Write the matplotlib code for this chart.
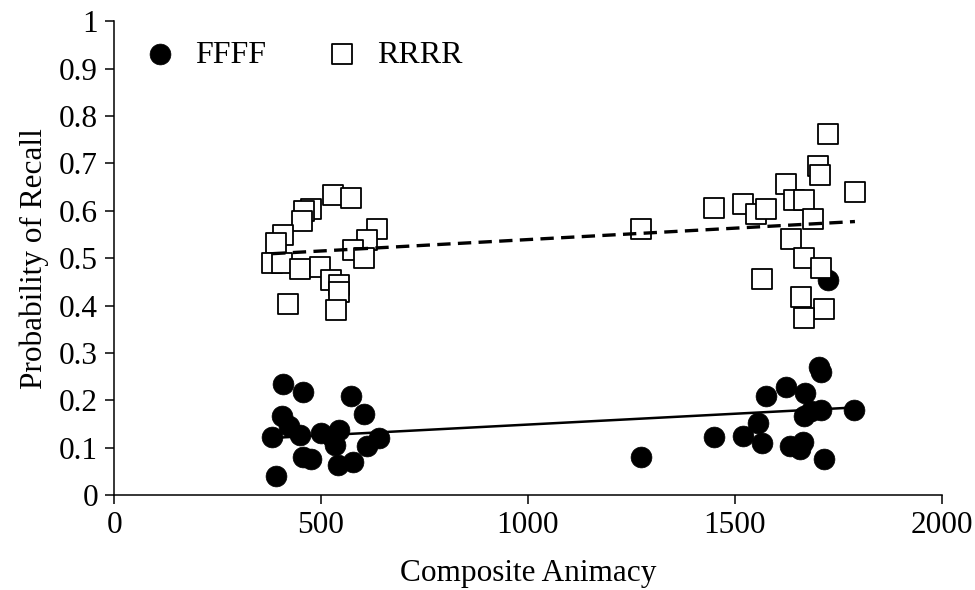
import numpy as np
import matplotlib.pyplot as plt

# FFFF (filled circles)
ffff_x = [407, 457, 573, 604, 405, 423, 382, 449, 499, 544, 526, 534, 641, 612,
          456, 477, 542, 577, 391,
          1273,
          1704, 1708, 1574, 1623, 1669, 1787, 1709, 1685, 1667, 1450, 1519, 1555,
          1566, 1633, 1665, 1657, 1716, 1725]
ffff_y = [0.234, 0.217, 0.209, 0.171, 0.167, 0.146, 0.123, 0.127, 0.131, 0.137,
          0.122, 0.105, 0.121, 0.103, 0.081, 0.076, 0.063, 0.069, 0.041,
          0.080,
          0.270, 0.260, 0.209, 0.227, 0.215, 0.179, 0.179, 0.178, 0.167, 0.123,
          0.124, 0.151, 0.110, 0.103, 0.112, 0.098, 0.077, 0.454]

# RRRR (open squares)
rrrr_x = [528, 573, 476, 460, 455, 636, 612, 407, 391, 577, 604, 382, 405, 449,
          498, 524, 544, 544, 420, 537,
          1273,
          1725, 1701, 1705, 1790, 1623, 1450, 1520, 1552, 1575, 1643, 1667, 1688,
          1635, 1667, 1709, 1566, 1659, 1715, 1667]
rrrr_y = [0.634, 0.626, 0.603, 0.600, 0.579, 0.561, 0.538, 0.549, 0.532, 0.518,
          0.501, 0.490, 0.490, 0.478, 0.482, 0.454, 0.443, 0.429, 0.404, 0.390,
          0.561,
          0.761, 0.694, 0.675, 0.640, 0.656, 0.605, 0.615, 0.594, 0.603, 0.622,
          0.622, 0.582, 0.540, 0.501, 0.480, 0.455, 0.417, 0.392, 0.373]

plt.rcParams['font.family'] = ['Liberation Serif', 'DejaVu Serif']

fig = plt.figure(figsize=(9.75, 5.9), dpi=100)
ax = fig.add_axes([0.117, 0.161, 0.849, 0.803])

ax.scatter(ffff_x, ffff_y, s=225, marker='o', c='black', edgecolors='black',
           linewidths=0.5, label='FFFF', zorder=2)
ax.scatter(rrrr_x, rrrr_y, s=195, marker='s', facecolors='white',
           edgecolors='black', linewidths=1.3, label='RRRR', zorder=3)

# Linear trendlines over the range of each series
fx = np.array(ffff_x)
k, b = np.polyfit(fx, ffff_y, 1)
xs = np.array([fx.min(), fx.max()])
ax.plot(xs, k * xs + b, color='black', lw=1.8, zorder=4)

rx = np.array(rrrr_x)
k, b = np.polyfit(rx, rrrr_y, 1)
xs = np.array([rx.min(), rx.max()])
ax.plot(xs, k * xs + b, color='black', lw=2.4, ls=(0, (4, 2.2)), zorder=4)

ax.set_xlim(0, 2000)
ax.set_ylim(0, 1)
ax.set_xticks([0, 500, 1000, 1500, 2000])
ax.set_yticks(np.arange(0, 1.01, 0.1))
ax.set_yticklabels(['0', '0.1', '0.2', '0.3', '0.4', '0.5', '0.6', '0.7',
                    '0.8', '0.9', '1'])

for side in ['top', 'right']:
    ax.spines[side].set_visible(False)
for side in ['left', 'bottom']:
    ax.spines[side].set_linewidth(1.1)
ax.tick_params(direction='out', length=6.5, width=1.1, labelsize=22.5, pad=5)

ax.set_xlabel('Composite Animacy', fontsize=22.5, labelpad=14)
ax.set_ylabel('Probability of Recall', fontsize=22.5, labelpad=7)

ax.legend(loc='upper left', bbox_to_anchor=(0.013, 1.0), ncol=2, frameon=False,
          fontsize=23, handlelength=1.0, handletextpad=0.6, columnspacing=1.87,
          borderaxespad=0.2)

plt.savefig('out.png')
